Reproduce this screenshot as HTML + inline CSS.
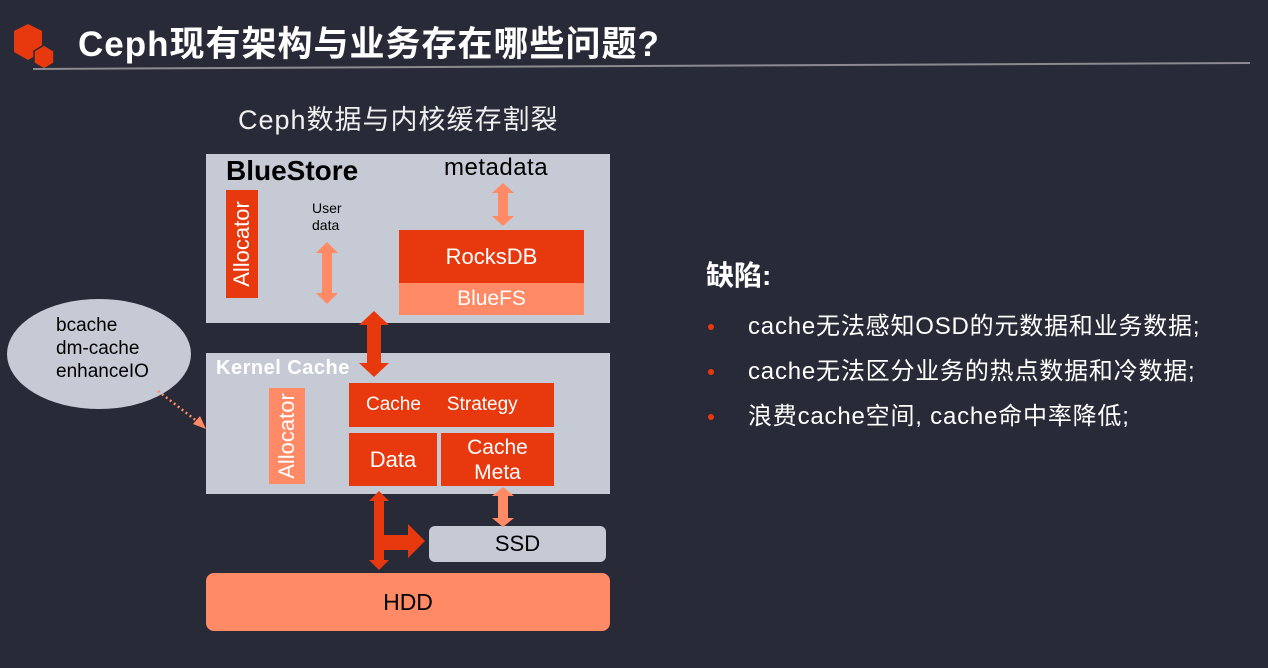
<!DOCTYPE html>
<html><head><meta charset="utf-8"><style>
body{margin:0;width:1268px;height:668px;background:#282a37;overflow:hidden;position:relative;font-family:"Liberation Sans","Noto Sans CJK SC",sans-serif;}
.a{position:absolute;}
.t{display:flex;align-items:center;justify-content:center;color:#fff;}
</style></head><body>
<svg class="a" style="left:0;top:0" width="1268" height="668">
<polygon points="28,24 42,31 42,52 28,60 14,52 14,31" fill="#e8390e"/>
<polygon points="44,45 54,51 54,63 44,69 34,63 34,51" fill="#e8390e" stroke="#282a37" stroke-width="1.5"/>
<line x1="33" y1="69" x2="1250" y2="63" stroke="#8a8a8f" stroke-width="2"/>
<rect x="206" y="154" width="404" height="169" fill="#c5cad5"/>
<rect x="206" y="353" width="404" height="141" fill="#c5cad5"/>
<ellipse cx="99" cy="354" rx="92" ry="55" fill="#c5cad5"/>
<line x1="158" y1="391" x2="198" y2="422" stroke="#ff8a65" stroke-width="2.5" stroke-dasharray="2,3"/>
<polygon points="206,429 193,424 200,416" fill="#ff8a65"/>
<rect x="429" y="526" width="177" height="36" rx="6" fill="#c5cad5"/>
<rect x="206" y="573" width="404" height="58" rx="8" fill="#ff8a65"/>
<polygon points="503,183 514,193 508,193 508,216 514,216 503,226 492,216 498,216 498,193 492,193" fill="#ff8a65"/>
<polygon points="327,242 338,253 332,253 332,293 338,293 327,304 316,293 322,293 322,253 316,253" fill="#ff8a65"/>
<polygon points="374,311 389,325 381,325 381,363 389,363 374,377 359,363 367,363 367,325 359,325" fill="#e8390e"/>
<polygon points="379,491 389,501 384,501 384,535 408,535 408,524 425,541 408,558 408,550 384,550 384,560 389,560 379,570 369,560 374,560 374,501 369,501" fill="#e8390e"/>
<polygon points="503,487 514,496 508,496 508,518 514,518 503,527 492,518 498,518 498,496 492,496" fill="#ff8a65"/>
<circle cx="711" cy="327" r="3" fill="#e8390e"/>
<circle cx="711" cy="372" r="3" fill="#e8390e"/>
<circle cx="711" cy="417" r="3" fill="#e8390e"/>
</svg>
<div class="a" style="left:78px;top:16px;font-size:35px;letter-spacing:1px;font-weight:bold;color:#fff;white-space:nowrap">Ceph现有架构与业务存在哪些问题?</div>
<div class="a" style="left:238px;top:98px;font-size:27px;letter-spacing:1px;color:#f0f0f0;white-space:nowrap">Ceph数据与内核缓存割裂</div>
<div class="a" style="left:226px;top:155px;font-size:28px;font-weight:bold;color:#000">BlueStore</div>
<div class="a" style="left:444px;top:154px;font-size:24px;letter-spacing:0.5px;color:#000">metadata</div>
<div class="a" style="left:312px;top:200px;font-size:14px;line-height:17px;color:#000">User<br>data</div>
<div class="a t" style="left:226px;top:190px;width:32px;height:108px;background:#e8390e"><span style="transform:rotate(-90deg);font-size:22px;white-space:nowrap">Allocator</span></div>
<div class="a t" style="left:399px;top:230px;width:185px;height:53px;background:#e8390e;font-size:22px">RocksDB</div>
<div class="a t" style="left:399px;top:283px;width:185px;height:32px;background:#ff8a65;font-size:21px">BlueFS</div>
<div class="a" style="left:216px;top:357px;font-size:20px;letter-spacing:0.5px;font-weight:bold;color:#fff">Kernel Cache</div>
<div class="a t" style="left:269px;top:388px;width:36px;height:96px;background:#ff8a65"><span style="transform:rotate(-90deg);font-size:22px;white-space:nowrap">Allocator</span></div>
<div class="a t" style="left:349px;top:383px;width:205px;height:44px;background:#e8390e;font-size:19px;justify-content:flex-start"><span style="margin-left:17px">Cache</span><span style="margin-left:26px">Strategy</span></div>
<div class="a t" style="left:349px;top:433px;width:88px;height:53px;background:#e8390e;font-size:22px">Data</div>
<div class="a t" style="left:441px;top:433px;width:113px;height:53px;background:#e8390e;font-size:21px;line-height:25px;text-align:center">Cache<br>Meta</div>
<div class="a t" style="left:429px;top:526px;width:177px;height:36px;color:#000;font-size:22px">SSD</div>
<div class="a t" style="left:206px;top:573px;width:404px;height:58px;color:#000;font-size:23px">HDD</div>
<div class="a" style="left:56px;top:314px;font-size:19px;line-height:23px;color:#000">bcache<br>dm-cache<br>enhanceIO</div>
<div class="a" style="left:706px;top:254px;font-size:28px;font-weight:bold;color:#fff">缺陷:</div>
<div class="a" style="left:748px;top:304px;font-size:24px;letter-spacing:0.8px;line-height:45px;color:#fff;white-space:nowrap">cache无法感知OSD的元数据和业务数据;<br>cache无法区分业务的热点数据和冷数据;<br>浪费cache空间, cache命中率降低;</div>
</body></html>
